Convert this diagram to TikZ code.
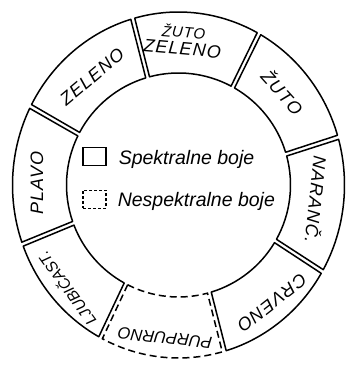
\documentclass[tikz,border=0pt]{standalone}
\usepackage{fontspec}
\setmainfont{Liberation Sans}
\newfontfamily\labfont[LetterSpace=6]{Liberation Sans}
\newfontfamily\labtight{Liberation Sans}
\usetikzlibrary{calc}
\newcommand\ringseg[3]{%
  \draw[#3] ($(C)+({#1+1}:112)$) arc[start angle={#1+1}, end angle={#2-1}, radius=112]
    -- ($(C)+({#2-0.7}:166 and 173)$) arc[start angle={#2-0.7}, end angle={#1+0.7}, x radius=166, y radius=173] -- cycle;}
\begin{document}
\begin{tikzpicture}[x=1pt,y=1pt, line width=1.5pt,
  ring/.style={draw=black, line join=round},
  nonspec/.style={draw=black, dash pattern=on 7pt off 4pt},
  lab/.style={font=\labfont\itshape\fontsize{18}{19}\selectfont, inner sep=0pt},
  labsmall/.style={font=\labtight\itshape\fontsize{16}{17}\selectfont, inner sep=0pt},
  legtext/.style={font=\itshape\fontsize{19.5}{22}\selectfont, anchor=base west, inner sep=0pt},
  legbox/.style={draw=black, line width=1.4pt, minimum width=23pt, minimum height=18pt, inner sep=0pt}]
\useasboundingbox (0,0) rectangle (345,369);
\coordinate (C) at (178.5,184);
% ring segments
\ringseg{61}{106}{ring}
\ringseg{16}{61}{ring}
\ringseg{-30}{16}{ring}
\ringseg{-74}{-30}{ring}
\ringseg{-118}{-74}{nonspec}
\ringseg{-160}{-118}{ring}
\ringseg{153}{200}{ring}
\ringseg{106}{153}{ring}
% labels
\node[lab, rotate=-5, align=center] (zz) at (183,329) {{\fontsize{15}{16}\selectfont ŽUTO}\\[-2pt]ZELENO};
\node[lab, rotate=-48] (zu) at (283,277) {ŽUTO};
\node[lab, rotate=-96] (na) at (317,169) {NARANČ.};
\node[lab, rotate=-142] (cr) at (272,66) {CRVENO};
\node[labsmall, font=\labtight\itshape\fontsize{16.5}{17}\selectfont, rotate=174] (pu) at (165,31) {PURPURNO};
\node[labsmall, font=\labtight\itshape\fontsize{15.5}{17}\selectfont, rotate=126] (lj) at (66,80) {LJUBIČAST.};
\node[lab, rotate=90] (pl) at (37,186) {PLAVO};
\node[lab, rotate=40] (ze) at (92,292) {ZELENO};
% legend
\node[legbox] (sbox) at (94.5,212.5) {};
\node[legbox, dash pattern=on 3pt off 2pt] (nbox) at (94.5,169.5) {};
\node[legtext] (stext) at (118,204) {Spektralne boje};
\node[legtext] (ntext) at (117,162) {Nespektralne boje};
\end{tikzpicture}
\end{document}
